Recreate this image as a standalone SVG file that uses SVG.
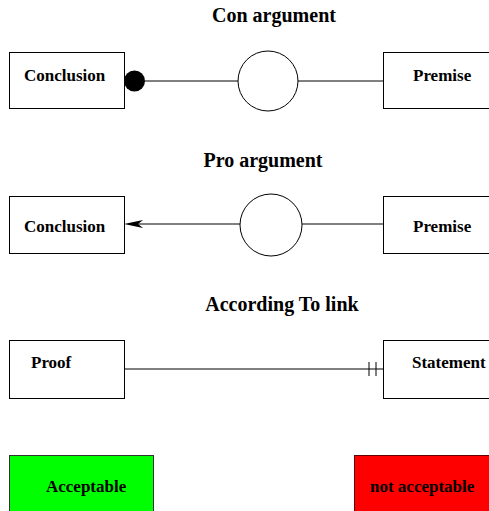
<svg xmlns="http://www.w3.org/2000/svg" width="489" height="511" viewBox="0 0 489 511">
<style>
.box{fill:#fff;stroke:#000;stroke-width:1}
.c{fill:#fff;stroke:#000;stroke-width:1}
.ln{stroke:#000;stroke-width:1;fill:none}
text{font-family:"Liberation Serif","Times New Roman",serif;font-weight:bold;fill:#000}
.t{font-size:20px;text-anchor:middle}
.l{font-size:17px}
.s{font-size:17px}
</style>
<rect width="489" height="511" fill="#fff"/>
<text class="t" x="274" y="22">Con argument</text>
<text class="t" x="263" y="167">Pro argument</text>
<text class="t" x="282" y="311">According To link</text>
<g id="connectors">
<line class="ln" x1="145" y1="81" x2="238" y2="81"/>
<circle cx="134.5" cy="81" r="10.5" fill="#000"/>
<line class="ln" x1="298" y1="81" x2="383" y2="81"/>
<line class="ln" x1="130" y1="224" x2="240" y2="224"/>
<path d="M124,224 L143,220 L138,224 L143,228 Z" fill="#000"/>
<line class="ln" x1="302" y1="224" x2="383" y2="224"/>
<line class="ln" x1="124" y1="369" x2="383" y2="369"/>
<line class="ln" x1="369" y1="362" x2="369" y2="376"/>
<line class="ln" x1="376" y1="362" x2="376" y2="376"/>
</g>
<g id="con-conclusion"><rect class="box" x="9.5" y="52.5" width="115" height="56"/><text class="l" x="24" y="81">Conclusion</text></g>
<g id="con-node"><circle class="c" cx="268" cy="81" r="30"/></g>
<g id="con-premise"><rect class="box" x="383.5" y="52.5" width="110" height="56"/><text class="l" x="413" y="81">Premise</text></g>
<g id="pro-conclusion"><rect class="box" x="9.5" y="196.5" width="115" height="57"/><text class="l" x="24" y="232">Conclusion</text></g>
<g id="pro-node"><circle class="c" cx="271" cy="225" r="31"/></g>
<g id="pro-premise"><rect class="box" x="383.5" y="196.5" width="110" height="57"/><text class="l" x="413" y="232">Premise</text></g>
<g id="proof"><rect class="box" x="9.5" y="340.5" width="115" height="58"/><text class="l" x="31" y="368">Proof</text></g>
<g id="statement"><rect class="box" x="383.5" y="340.5" width="110" height="58"/><text class="l" x="412" y="368">Statement</text></g>
<g id="acceptable"><rect x="9.5" y="455.5" width="144" height="60" fill="#00ff00" stroke="#333"/><text class="s" x="46" y="492">Acceptable</text></g>
<g id="not-acceptable"><rect x="354.5" y="455.5" width="140" height="60" fill="#ff0000" stroke="#600"/><text class="s" x="370" y="492">not acceptable</text></g>
</svg>
